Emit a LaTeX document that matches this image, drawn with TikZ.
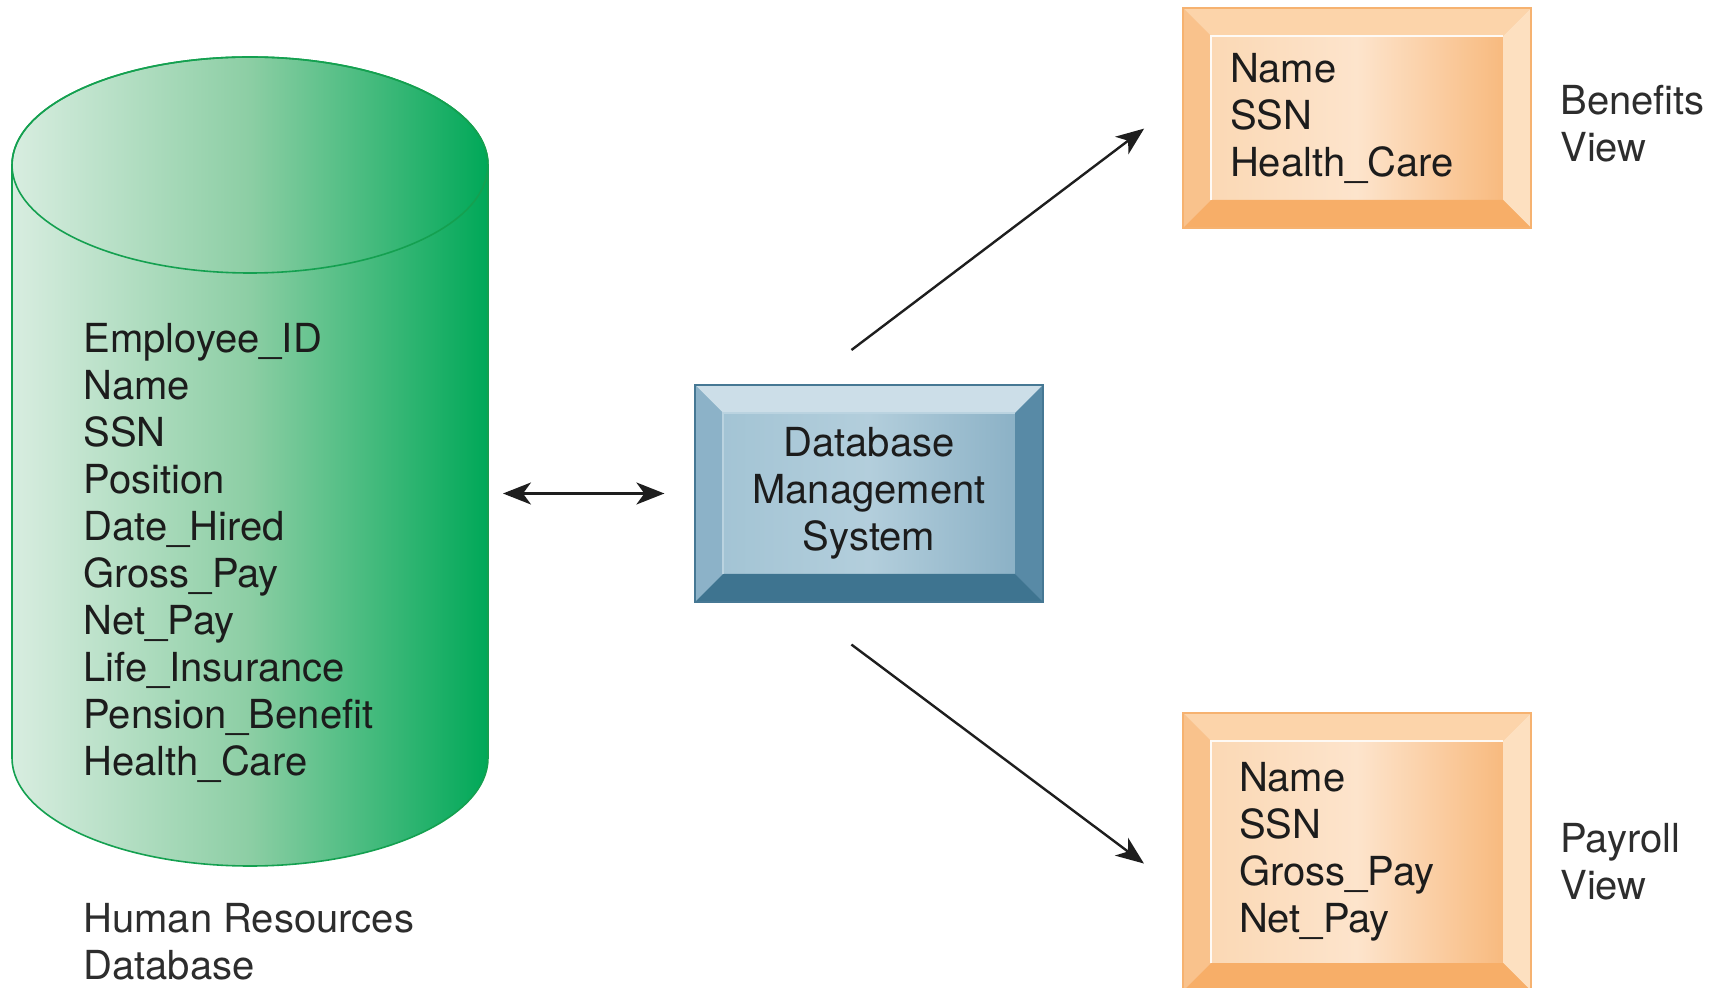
\documentclass[tikz,border=0pt]{standalone}
\usepackage{fontspec}
\setmainfont{TeX Gyre Heros}
\usepackage{tikz}
\usetikzlibrary{arrows.meta}
\usetikzlibrary{calc}

\definecolor{txtdark}{RGB}{28,28,28}
\definecolor{txtgray}{RGB}{45,45,45}
\definecolor{arrowgray}{RGB}{30,30,30}
\definecolor{hrlight}{RGB}{216,237,224}
\definecolor{hrmid}{RGB}{140,206,164}
\definecolor{hrdark}{RGB}{0,168,88}
\definecolor{hrline}{RGB}{20,160,80}
\definecolor{dbmsline}{RGB}{70,120,148}
\definecolor{dbmsfaceA}{RGB}{160,194,211}
\definecolor{dbmsfaceB}{RGB}{132,172,194}
\definecolor{dbmstop}{RGB}{204,222,232}
\definecolor{dbmsleft}{RGB}{140,178,200}
\definecolor{dbmsright}{RGB}{88,138,166}
\definecolor{dbmsbottom}{RGB}{62,116,144}
\definecolor{viewline}{RGB}{246,178,112}
\definecolor{viewfaceA}{RGB}{250,214,176}
\definecolor{viewfaceB}{RGB}{253,228,204}
\definecolor{viewfaceC}{RGB}{247,178,112}
\definecolor{viewtop}{RGB}{252,212,170}
\definecolor{viewleft}{RGB}{249,194,140}
\definecolor{viewright}{RGB}{253,224,192}
\definecolor{viewbottom}{RGB}{247,174,104}

% four bevel faces round a node, then a thin highlight on the inner face
\newcommand\bevelfaces[5]{%
  \fill[#1] (path picture bounding box.north west) -- (path picture bounding box.north east)
    -- ([shift={(-14pt,-14pt)}]path picture bounding box.north east)
    -- ([shift={(14pt,-14pt)}]path picture bounding box.north west) -- cycle;
  \fill[#2] (path picture bounding box.north west)
    -- ([shift={(14pt,-14pt)}]path picture bounding box.north west)
    -- ([shift={(14pt,14pt)}]path picture bounding box.south west)
    -- (path picture bounding box.south west) -- cycle;
  \fill[#3] (path picture bounding box.north east)
    -- ([shift={(-14pt,-14pt)}]path picture bounding box.north east)
    -- ([shift={(-14pt,14pt)}]path picture bounding box.south east)
    -- (path picture bounding box.south east) -- cycle;
  \fill[#4] (path picture bounding box.south west)
    -- ([shift={(14pt,14pt)}]path picture bounding box.south west)
    -- ([shift={(-14pt,14pt)}]path picture bounding box.south east)
    -- (path picture bounding box.south east) -- cycle;
  \draw[#5, line width=0.8pt] ([shift={(14pt,14pt)}]path picture bounding box.south west)
    -- ([shift={(14pt,-14pt)}]path picture bounding box.north west)
    -- ([shift={(-14pt,-14pt)}]path picture bounding box.north east);}

\begin{document}
\begin{tikzpicture}[x=0.5pt, y=0.5pt, font=\fontsize{20}{23.5}\selectfont, text=txtdark,
        list_style/.style={align=left, inner sep=0pt},
        caption_style/.style={align=left, inner sep=0pt, text=txtgray},
        dbms_style/.style={rectangle, draw=dbmsline, line width=0.6pt,
            left color=dbmsfaceA, right color=dbmsfaceB, middle color=dbmsfaceA!80!white,
            minimum width=174pt, minimum height=108.5pt, align=center, inner sep=0pt,
            path picture={\bevelfaces{dbmstop}{dbmsleft}{dbmsright}{dbmsbottom}{dbmstop!60!dbmsfaceA}}},
        view_style/.style={rectangle, draw=viewline, line width=0.6pt,
            left color=viewfaceA, right color=viewfaceC, middle color=viewfaceB,
            minimum height=110pt, text width=127pt, inner xsep=23.5pt, inner ysep=0pt, align=left,
            path picture={\bevelfaces{viewtop}{viewleft}{viewright}{viewbottom}{white!80!viewfaceB}}},
        edge_style/.style={draw=arrowgray, line width=1.2pt, -{Stealth[length=14pt,width=11pt,inset=4pt]}},
        both_edge_style/.style={draw=arrowgray, line width=1.2pt,
            {Stealth[length=14pt,width=11pt,inset=4pt]}-{Stealth[length=14pt,width=11pt,inset=4pt]}}]

        \useasboundingbox (0,0) rectangle (1721,987);

        % cylinder
        \draw[hrline, line width=0.8pt, left color=hrlight, right color=hrdark, middle color=hrmid]
            (12,822) -- (12,229) arc[start angle=180, end angle=360, x radius=119pt, y radius=54pt]
            -- (488,822) arc[start angle=0, end angle=180, x radius=119pt, y radius=54pt] -- cycle;
        \draw[hrline, line width=0.8pt] (250,822) ellipse [x radius=119pt, y radius=54pt];

        \node [list_style, anchor=west](hrfields) at (83,434) {Employee\_ID\\Name\\SSN\\Position\\Date\_Hired\\Gross\_Pay\\Net\_Pay\\Life\_Insurance\\Pension\_Benefit\\Health\_Care};
        \node [caption_style, anchor=west](hrlabel) at (83,45) {Human Resources\\Database};
        \coordinate (hrside) at (488,493.5);

        \node [dbms_style](dbms) at (869,493.5) {Database\\Management\\System};

        \node [view_style](benefits) at (1357,869) {Name\\SSN\\Health\_Care};
        \node [caption_style, anchor=west](benlabel) at (1560,863) {Benefits\\View};

        \node [view_style, minimum height=139pt, inner xsep=28pt, text width=118pt](payroll) at (1357,135) {Name\\SSN\\Gross\_Pay\\Net\_Pay};
        \node [caption_style, anchor=west](paylabel) at (1560,125) {Payroll\\View};

        \draw [both_edge_style, shorten <=7.5pt, shorten >=15pt] (hrside) -- (dbms.west);

        \draw [edge_style, shorten <=28.5pt, shorten >=24pt] (dbms.120) -- (benefits.174);

        \draw [edge_style, shorten <=35pt, shorten >=24pt] (dbms.236) -- (payroll.193);

        \end{tikzpicture}
\end{document}
